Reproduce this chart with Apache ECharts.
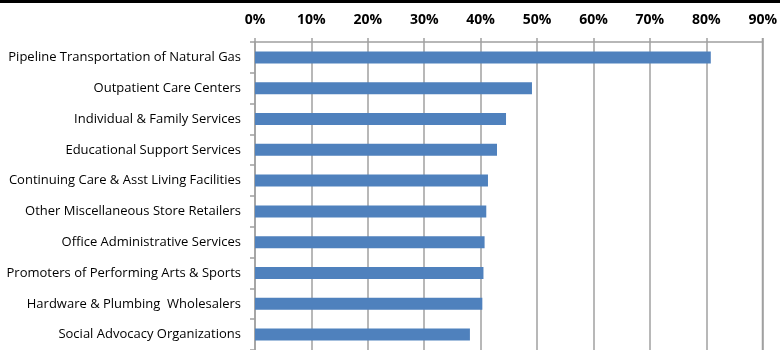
<!DOCTYPE html>
<html>
<head>
<meta charset="utf-8">
<script src="https://cdn.jsdelivr.net/npm/echarts@6/dist/echarts.min.js"></script>
<style>html,body{margin:0;padding:0;background:#fff}#c{width:780px;height:350px}</style>
</head>
<body>
<div id="c"></div>
<script>
var categories = [
  "Pipeline Transportation of Natural Gas",
  "Outpatient Care Centers",
  "Individual & Family Services",
  "Educational Support Services",
  "Continuing Care & Asst Living Facilities",
  "Other Miscellaneous Store Retailers",
  "Office Administrative Services",
  "Promoters of Performing Arts & Sports",
  "Hardware & Plumbing  Wholesalers",
  "Social Advocacy Organizations"
];
var values = [0.808, 0.491, 0.445, 0.429, 0.413, 0.410, 0.407, 0.405, 0.403, 0.381];
var tickMin = 0, tickMax = 0.9, tickStep = 0.1;

var chart = echarts.init(document.getElementById('c'), null, {renderer: 'canvas'});
chart.setOption({
  animation: false,
  grid: {left: 255, right: 12, top: 42, bottom: -5, containLabel: false},
  xAxis: {
    type: 'value', position: 'top', min: tickMin, max: tickMax, interval: tickStep,
    axisLine: {show: true, lineStyle: {color: '#A0A0A0', width: 1.5}},
    axisTick: {show: true, length: 4, lineStyle: {color: '#A0A0A0', width: 1.5}},
    splitLine: {show: true, lineStyle: {color: '#A0A0A0', width: 1.5}},
    axisLabel: {
      margin: 15, color: '#000', fontFamily: 'Open Sans', fontWeight: 'bold', fontSize: 14,
      showMaxLabel: true,
      formatter: function (v) { return Math.round(v * 100) + '%'; }
    }
  },
  yAxis: {
    type: 'category', inverse: true, data: categories,
    axisLine: {show: true, lineStyle: {color: '#A0A0A0', width: 1.5}},
    axisTick: {show: true, length: 5, lineStyle: {color: '#A0A0A0', width: 1.5}},
    axisLabel: {margin: 14, color: '#000', fontFamily: 'Open Sans', fontSize: 13}
  },
  series: [{
    type: 'bar', data: values, barWidth: 12,
    itemStyle: {color: '#4F81BD'}
  }]
});
var xr = Math.round(chart.convertToPixel({xAxisIndex: 0}, tickMax)) - 0.5;
chart.setOption({
  graphic: [
    {type: 'rect', left: 0, top: 0, shape: {width: 780, height: 3}, style: {fill: '#000'}},
    {type: 'line', shape: {x1: xr, y1: 38, x2: xr, y2: 350}, style: {stroke: '#A0A0A0', lineWidth: 1.5}, z: 10}
  ]
});
</script>
</body>
</html>
